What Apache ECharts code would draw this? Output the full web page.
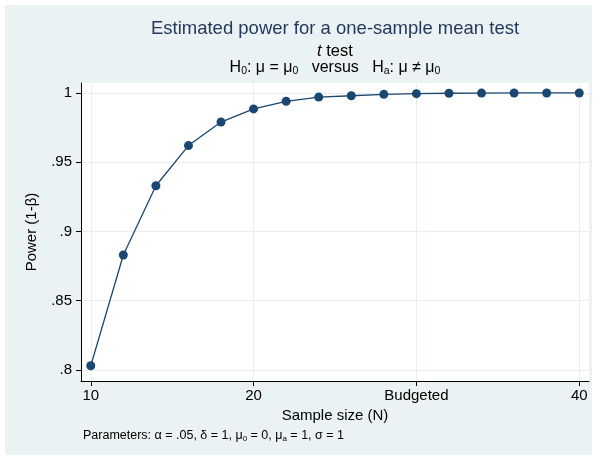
<!DOCTYPE html>
<html><head><meta charset="utf-8">
<script src="https://cdn.jsdelivr.net/npm/echarts@6/dist/echarts.min.js"></script>
<style>html,body{margin:0;padding:0;background:#fff}#c{width:597px;height:460px}</style>
</head><body><div id="c"></div>
<script>
const sampleSizes = [10,12,14,16,18,20,22,24,26,28,30,32,34,36,38,40];
const power = [0.803,0.883,0.933,0.962,0.979,0.9885,0.994,0.997,0.998,0.999,0.9995,0.9998,0.9999,1.0,1.0,1.0];
const xTicks = [10,20,30,40];
const xTickLabels = {10:'10',20:'20',30:'Budgeted',40:'40'};
const yTicks = [0.8,0.85,0.9,0.95,1];
const yTickLabels = {0.8:'.8',0.85:'.85',0.9:'.9',0.95:'.95',1:'1'};

const FONT = 'Liberation Sans, Arial, Helvetica, sans-serif';
const chart = echarts.init(document.getElementById('c'));
const gridColor = '#e7eff1';
const CX = 335;
chart.setOption({
  backgroundColor: '#ffffff',
  animation: false,
  textStyle: {fontFamily: FONT},
  graphic: [
    {type:'rect', z:-100, silent:true, shape:{x:5,y:5,width:587,height:450}, style:{fill:'#eaf2f3'}},
    {type:'text', x:CX, y:29, style:{text:'Estimated power for a one-sample mean test', font:'18.5px '+FONT, fill:'#24395c', align:'center', verticalAlign:'middle'}},
    {type:'text', x:CX, y:51, style:{text:'{i|t} test', align:'center', verticalAlign:'middle',
      rich:{i:{fontStyle:'italic', fontSize:16.5, fontFamily:FONT, fill:'#000'}}, font:'16.5px '+FONT, fill:'#000'}},
    {type:'text', x:CX, y:68, style:{
      text:'H{s|0}: μ = μ{s|0}   versus   H{s|a}: μ ≠ μ{s|0}', align:'center', verticalAlign:'middle',
      font:'16px '+FONT, fill:'#000', lineHeight:18,
      rich:{s:{fontSize:10.5, fontFamily:FONT, fill:'#000', verticalAlign:'bottom', lineHeight:10}}
    }},
    {type:'text', x:83, y:436, style:{
      text:'Parameters: α = .05, δ = 1, μ{s|0} = 0, μ{s|a} = 1, σ = 1', align:'left', verticalAlign:'middle',
      font:'12.5px '+FONT, fill:'#000', lineHeight:14,
      rich:{s:{fontSize:8, fontFamily:FONT, fill:'#000', verticalAlign:'bottom', lineHeight:8}}
    }}
  ],
  grid: {left:81, top:83, right:8, bottom:79, containLabel:false, show:true, backgroundColor:'#ffffff', borderWidth:0},
  xAxis: {
    type:'value', min:9.4, max:40.6,
    name:'Sample size (N)', nameLocation:'middle', nameGap:22,
    nameTextStyle:{fontSize:15, color:'#000', verticalAlign:'top'},
    axisLine:{show:true, onZero:false, lineStyle:{color:'#000', width:1}},
    axisTick:{show:true, length:5, customValues:xTicks, lineStyle:{color:'#000'}},
    axisLabel:{customValues:xTicks, margin:7, fontSize:15, color:'#000', formatter:v=>xTickLabels[v]},
    splitLine:{show:true, lineStyle:{color:gridColor, width:1}}
  },
  yAxis: {
    type:'value', min:0.792, max:1.0072,
    name:'Power (1-β)', nameLocation:'middle', nameGap:42,
    nameTextStyle:{fontSize:15, color:'#000'},
    axisLine:{show:true, onZero:false, lineStyle:{color:'#000', width:1}},
    axisTick:{show:true, length:5, customValues:yTicks, lineStyle:{color:'#000'}},
    axisLabel:{customValues:yTicks, margin:9, fontSize:15, color:'#000', formatter:v=>yTickLabels[v] || ''},
    splitLine:{show:true, lineStyle:{color:gridColor, width:1}}
  },
  series: [{
    type:'line',
    data: sampleSizes.map((n,i)=>[n,power[i]]),
    symbol:'circle', symbolSize:9,
    itemStyle:{color:'#1a476f'},
    lineStyle:{color:'#1a476f', width:1.3}
  }]
});
</script></body></html>
